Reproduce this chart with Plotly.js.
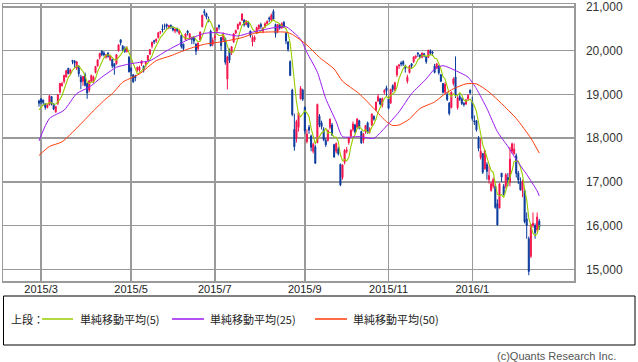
<!DOCTYPE html>
<html><head><meta charset="utf-8">
<script src="https://cdn.plot.ly/plotly-3.0.1.min.js"></script>
<style>html,body{margin:0;padding:0;background:#fff;}#chart{width:638px;height:362px;}</style>
</head><body><div id="chart"></div>
<script>
// Trading calendar (Tokyo), Feb 27 2015 .. Feb 19 2016
const startDate = '2015-02-27';
const endDate = '2016-02-19';
const holidays = ['2015-04-29','2015-05-04','2015-05-05','2015-05-06','2015-07-20','2015-09-21','2015-09-22','2015-09-23','2015-10-12','2015-11-03','2015-11-23','2015-12-23','2015-12-31','2016-01-01','2016-01-11','2016-02-11'];

const tickDates = ['2015-03-02','2015-05-01','2015-07-01','2015-09-01','2015-11-02','2016-01-04'];
const tickLabels = ['2015/3','2015/5','2015/7','2015/9','2015/11','2016/1'];

const opens = [18850,18900,18870,18790,18700,18760,18950,18780,18600,18800,19050,19200,19300,19400,19600,19480,19780,19770,19600,19650,19400,19300,19450,19250,19100,19300,19300,19500,19650,19850,19990,19950,19850,19950,19800,19800,19700,19700,20000,20250,20100,20050,19980,19850,19600,19450,19420,19550,19560,19700,19650,19700,19780,19920,20100,20230,20220,20300,20420,20500,20560,20600,20540,20580,20520,20450,20500,20400,20350,20150,20250,20450,20300,20300,20300,20150,20050,20250,20550,20900,20850,20720,20450,20150,20300,20450,20580,20300,20250,20280,19350,20000,19950,20200,20400,20500,20600,20700,20700,20600,20640,20450,20200,20250,20400,20500,20600,20450,20550,20620,20750,20700,20900,20600,20450,20600,20520,20650,20400,20200,19750,19100,18200,18000,18250,18900,19100,18700,17920,18250,18050,17700,17800,17900,18500,18350,18200,17950,17950,18250,18300,17850,17700,17750,17400,17100,17450,17700,17900,18050,18200,18300,18250,18400,18150,17950,18150,18350,18200,18300,18500,18650,18850,18900,18750,19050,19150,18900,18800,19200,19100,19450,19650,19720,19750,19650,19300,19500,19700,19750,19850,19950,19900,19850,19930,19870,19850,20000,19970,19650,19600,19650,19450,19250,19050,19000,18800,18700,19250,19400,18700,18950,18900,18800,18780,18900,19100,18820,18400,18400,18000,17560,17650,17300,17400,17050,16800,16900,16900,16500,16400,17200,16900,16900,17100,17000,17700,17650,17600,17200,17000,16800,16800,16150,15700,15300,16000,16000,15900,16100];
const highs = [18880,18910,18880,18800,18790,18980,18960,18800,18740,19000,19260,19290,19440,19560,19600,19590,19780,19778,19760,19660,19450,19420,19500,19280,19320,19450,19430,19650,19800,19950,20006,19990,19920,19960,19900,19820,19720,19920,20140,20252,20130,20100,20100,19880,19620,19460,19450,19640,19660,19780,19660,19750,19900,20030,20200,20250,20280,20420,20450,20600,20620,20620,20590,20600,20560,20520,20530,20480,20360,20160,20400,20470,20400,20320,20310,20170,20190,20440,20820,20952,20870,20780,20480,20300,20380,20530,20600,20310,20420,20300,19880,20050,20100,20400,20480,20620,20660,20850,20720,20700,20680,20460,20350,20350,20550,20600,20640,20540,20650,20700,20780,20850,20946,20620,20610,20620,20650,20680,20420,20220,19780,19130,18560,18420,18600,19192,19130,18730,18200,18300,18080,17900,17850,18790,18550,18400,18250,18000,18200,18450,18350,17870,17900,17800,17420,17400,17750,17800,18010,18200,18380,18330,18460,18420,18170,18120,18300,18380,18250,18560,18520,18830,19010,18920,18930,19120,19200,18950,19130,19230,19290,19660,19700,19760,19780,19680,19450,19670,19720,19870,19890,19960,19920,19960,19950,19880,20020,20030,19990,19700,19720,19670,19470,19260,19280,19050,18830,19070,19390,19869,18960,19000,18930,18820,18900,19000,19110,18950,18520,18400,18050,17990,17650,17720,17450,17370,17000,17100,16950,16600,16960,17200,16950,17200,17200,17800,17900,17880,17650,17250,17100,17050,16850,16300,15750,16030,16300,16050,16300,16150];
const lows = [18720,18780,18750,18650,18680,18750,18750,18640,18580,18760,19020,19180,19250,19390,19460,19450,19690,19600,19560,19400,19120,19200,19180,18900,19050,19280,19260,19480,19640,19800,19880,19870,19820,19840,19760,19600,19450,19680,19980,20120,19990,19950,19960,19500,19420,19260,19300,19520,19520,19650,19500,19620,19760,19900,20050,20150,20180,20280,20380,20420,20480,20500,20490,20500,20440,20400,20420,20360,20050,19990,20240,20350,20250,20150,20150,19900,20000,20220,20530,20800,20720,20650,20100,20100,20250,20420,20480,20000,20200,19680,19115,19720,19900,20180,20380,20480,20570,20680,20550,20580,20520,20300,20100,20200,20380,20480,20500,20400,20520,20600,20650,20680,20700,20300,20400,20480,20500,20520,20150,19980,19420,18500,17714,17900,18150,18880,18850,18100,17880,18100,17700,17650,17415,17880,18250,18200,17930,17800,17920,18200,18050,17550,17650,17600,16901,17050,17400,17650,17850,18000,18150,18100,18220,18200,17870,17880,18100,18100,18100,18280,18400,18620,18830,18750,18700,19000,18950,18660,18790,19050,19080,19400,19580,19640,19650,19500,19250,19480,19600,19720,19810,19860,19820,19830,19850,19700,19830,19900,19880,19480,19580,19450,19280,19020,19020,18850,18520,18680,19200,18920,18650,18850,18760,18720,18760,18870,19000,18400,18300,18150,17700,17510,17180,17280,17050,16960,16780,16850,16387,16000,16400,17000,16690,16850,16900,16900,17650,17620,17100,16950,16800,16650,16050,15700,14865,15260,15950,15700,15850,15900];
const closes = [18798,18826,18815,18704,18752,18971,18790,18665,18723,18991,19254,19246,19437,19544,19476,19560,19754,19713,19746,19471,19286,19412,19207,19035,19313,19435,19397,19641,19790,19938,19908,19905,19908,19870,19886,19653,19634,19910,20134,20187,20020,19983,20059,19520,19532,19292,19380,19621,19625,19765,19570,19733,19890,20026,20197,20202,20264,20413,20437,20473,20552,20563,20570,20544,20473,20488,20461,20458,20097,20047,20382,20407,20388,20258,20219,19990,20174,20428,20809,20868,20772,20706,20110,20236,20329,20523,20540,20113,20376,19738,19855,19780,20090,20385,20464,20600,20650,20841,20593,20683,20545,20350,20303,20303,20523,20585,20548,20520,20614,20665,20725,20808,20720,20392,20595,20519,20620,20555,20223,20033,19436,18541,17806,18377,18574,19136,18890,18165,18095,18183,17792,17860,17427,18770,18299,18264,17966,17849,18172,18433,18070,17571,17880,17645,16931,17388,17722,17725,18006,18186,18322,18141,18438,18235,17891,18097,18291,18132,18207,18554,18435,18825,18947,18777,18904,19083,19083,18684,19117,19117,19265,19642,19671,19697,19691,19597,19394,19650,19650,19859,19880,19925,19848,19945,19884,19747,20012,19939,19940,19504,19698,19493,19302,19047,19230,18883,18565,19050,19354,18986,18917,18887,18790,18770,18874,18982,19034,18451,18374,18191,17767,17698,17219,17716,17240,17147,16956,17049,16417,16017,16958,17111,16709,17164,17041,17518,17866,17750,17192,17045,16820,17005,16085,16002,14952,16022,16054,15837,16197,15967];
// closes of the four sessions before the first candle (needed for the 5-day average)
const priorCloses = [18467,18603,18585,18786];

const ma25Idx = [0,5,12,18,24,30,37,43,48,53,61,70,79,86,95,101,112,118,120,125,128,133,137,142,145,153,160,165,172,178,185,189,193,199,205,209,214,219,224,228,233,238,239];
const ma25Val = [17939,18450,18640,19020,19167,19394,19620,19695,19733,19772,19998,20224,20396,20412,20337,20412,20525,20548,20486,20260,19959,19507,18903,18376,18036,18036,17998,18224,18602,19016,19355,19581,19658,19545,19394,19129,18677,18149,17810,17509,17170,16792,16679];
const ma50Idx = [0,5,11,21,26,32,35,40,43,48,56,63,71,79,87,97,104,118,121,128,134,141,145,153,160,166,169,172,177,182,189,194,198,204,209,215,221,228,235,239];
const ma50Val = [17606,17810,17916,18376,18625,18903,19016,19281,19355,19468,19772,19885,20034,20147,20201,20299,20412,20423,20373,20129,19846,19581,19303,19016,18677,18376,18290,18301,18437,18677,18828,19016,19129,19242,19242,19054,18790,18450,17998,17658];

const legendLabels = ['上段：','単純移動平均(5)','単純移動平均(25)','単純移動平均(50)'];
const copyright = '(c)Quants Research Inc.';

function fmt(d){return d.toISOString().slice(0,10);}
const dates = [];
(function(){
  const d = new Date(startDate+'T00:00:00Z');
  const e = new Date(endDate+'T00:00:00Z');
  while(d <= e){
    const wd = d.getUTCDay();
    const s = fmt(d);
    if(wd !== 0 && wd !== 6 && holidays.indexOf(s) < 0) dates.push(s);
    d.setUTCDate(d.getUTCDate()+1);
  }
})();

const allCloses = priorCloses.concat(closes);
const ma5 = closes.map((c,i)=>{let s=0;for(let k=i;k<i+5;k++)s+=allCloses[k];return s/5;});

const RED='#f5154d', BLUE='#0a3a9c', GREEN='#99cc00', PURPLE='#9a1af0', ORANGE='#ff3b0a';

const traces = [
  {type:'candlestick', x:dates, open:opens, high:highs, low:lows, close:closes,
   increasing:{line:{color:RED,width:1},fillcolor:RED},
   decreasing:{line:{color:BLUE,width:1},fillcolor:BLUE},
   whiskerwidth:0, hoverinfo:'skip'},
  {type:'scatter', mode:'lines', x:dates, y:ma5, line:{color:GREEN,width:1.1}, hoverinfo:'skip'},
  {type:'scatter', mode:'lines', x:ma25Idx.map(i=>dates[i]), y:ma25Val, line:{color:PURPLE,width:1,shape:'spline',smoothing:0.6}, hoverinfo:'skip'},
  {type:'scatter', mode:'lines', x:ma50Idx.map(i=>dates[i]), y:ma50Val, line:{color:ORANGE,width:1,shape:'spline',smoothing:0.6}, hoverinfo:'skip'}
];

const L=3, R=574, T=4, B=281;
const px=v=>(v-L)/(R-L), py=v=>(B-v)/(B-T);
const legY = py(319);
const shapes = [
  {type:'rect',xref:'paper',yref:'paper',x0:px(3.5),x1:px(635),y0:py(345),y1:py(296),line:{color:'#000',width:1}},
  {type:'line',xref:'paper',yref:'paper',x0:px(42),x1:px(73),y0:legY,y1:legY,line:{color:GREEN,width:1.5}},
  {type:'line',xref:'paper',yref:'paper',x0:px(172),x1:px(204),y0:legY,y1:legY,line:{color:PURPLE,width:1.5}},
  {type:'line',xref:'paper',yref:'paper',x0:px(315),x1:px(347),y0:legY,y1:legY,line:{color:ORANGE,width:1.5}}
];
const lf={family:'Noto Sans CJK JP, sans-serif',size:11,color:'#222'};
const annotations = [
  {xref:'paper',yref:'paper',x:px(9),y:legY,text:legendLabels[0],showarrow:false,xanchor:'left',yanchor:'middle',font:lf},
  {xref:'paper',yref:'paper',x:px(78),y:legY,text:legendLabels[1],showarrow:false,xanchor:'left',yanchor:'middle',font:lf},
  {xref:'paper',yref:'paper',x:px(208),y:legY,text:legendLabels[2],showarrow:false,xanchor:'left',yanchor:'middle',font:lf},
  {xref:'paper',yref:'paper',x:px(351),y:legY,text:legendLabels[3],showarrow:false,xanchor:'left',yanchor:'middle',font:lf},
  {xref:'paper',yref:'paper',x:px(618),y:py(356),text:copyright,showarrow:false,xanchor:'right',yanchor:'middle',font:{family:'Liberation Sans, sans-serif',size:11,color:'#555'}}
];

const layout = {
  width:638, height:362, margin:{l:L,r:638-R,t:T,b:362-B,pad:0},
  paper_bgcolor:'#fff', plot_bgcolor:'#fff', showlegend:false, dragmode:false,
  xaxis:{type:'category', range:[-17.2,255.6], tickmode:'array', tickvals:tickDates, ticktext:tickLabels,
    showgrid:true, gridcolor:'#9a9a9a', gridwidth:1.5, showline:true, mirror:true, linecolor:'#9a9a9a', linewidth:1.5,
    ticks:'', zeroline:false, rangeslider:{visible:false}, fixedrange:true, ticklabelstandoff:-3,
    tickfont:{family:'Liberation Sans, sans-serif',size:11,color:'#222'}},
  yaxis:{side:'right', range:[14733,21068], tick0:15000, dtick:1000, tickformat:',d',
    showgrid:true, gridcolor:'#9a9a9a', gridwidth:1.5, showline:true, mirror:true, linecolor:'#9a9a9a', linewidth:1.5,
    ticks:'', zeroline:false, fixedrange:true, ticklabelstandoff:8, ticklabeloverflow:'allow',
    tickfont:{family:'Liberation Sans, sans-serif',size:12,color:'#333'}},
  shapes:shapes, annotations:annotations
};
Plotly.newPlot('chart', traces, layout, {staticPlot:true, displayModeBar:false});
</script></body></html>
